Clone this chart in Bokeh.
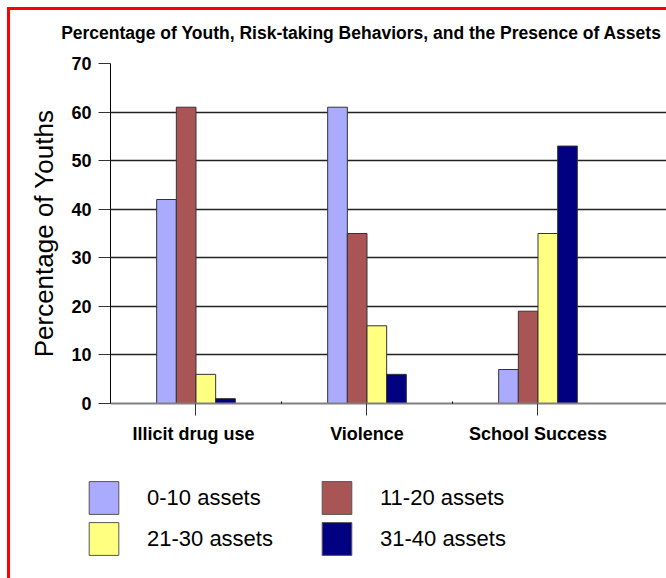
from bokeh.plotting import figure
from bokeh.layouts import column
from bokeh.models import (ColumnDataSource, Range1d, FixedTicker, Legend, LegendItem,
                          Label, InlineStyleSheet)
from bokeh.transform import dodge
from bokeh.embed import file_html
from bokeh.resources import INLINE

# ---- data ----
categories = ["Illicit drug  use", "Violence", "School Success"]
series_names = ["0-10 assets", "11-20 assets", "21-30 assets", "31-40 assets"]
assets_0_10 = [42, 61, 7]
assets_11_20 = [61, 35, 19]
assets_21_30 = [6, 16, 35]
assets_31_40 = [1, 6, 53]
y_ticks = [0, 10, 20, 30, 40, 50, 60, 70]
title_text = "Percentage of Youth, Risk-taking Behaviors, and the Presence of Assets"
y_label = "Percentage of Youths"

colors = ["#AAAAFF", "#AA5555", "#FFFF80", "#000080"]

positions = [i + 1 for i in range(len(categories))]
source = ColumnDataSource(dict(x=positions, s0=assets_0_10, s1=assets_11_20,
                               s2=assets_21_30, s3=assets_31_40))
cols = ["s0", "s1", "s2", "s3"]


def strip(height):
    f = figure(width=666, height=height, x_range=Range1d(100, 101), y_range=Range1d(100, 101),
               output_backend="svg", toolbar_location=None,
               x_axis_location=None, y_axis_location=None,
               min_border_left=0, min_border_right=0, min_border_top=0, min_border_bottom=0)
    f.frame_align = False
    f.grid.grid_line_color = None
    f.outline_line_color = None
    f.background_fill_color = "white"
    f.border_fill_color = "white"
    return f


# ---- title strip ----
pt = strip(48)
pt.add_layout(Label(x=361, y=16, x_units="screen", y_units="screen", text=title_text,
                    text_font="Liberation Sans", text_font_style="bold", text_font_size="17.5px",
                    text_align="center", text_baseline="alphabetic", text_color="black"))

# ---- main chart ----
p = figure(width=666, height=422, x_range=Range1d(0.5, 3.7515), y_range=Range1d(0, 70),
           output_backend="svg", toolbar_location=None,
           min_border_left=110, min_border_right=0, min_border_top=15, min_border_bottom=67)
p.frame_align = False
p.background_fill_color = "white"
p.border_fill_color = "white"
p.outline_line_color = None

bw = 0.115
offsets = [-1.5 * bw, -0.5 * bw, 0.5 * bw, 1.5 * bw]
for i, (col, c) in enumerate(zip(cols, colors)):
    p.vbar(x=dodge("x", offsets[i], range=p.x_range), top=col, width=bw, bottom=0,
           source=source, fill_color=c, line_color="#333333", line_width=1)

# grid
p.xgrid.grid_line_color = None
p.ygrid.grid_line_color = "#222222"
p.ygrid.grid_line_width = 1.5
p.ygrid.ticker = FixedTicker(ticks=y_ticks)

# y axis
p.yaxis.ticker = FixedTicker(ticks=y_ticks)
p.yaxis.axis_line_color = "black"
p.yaxis.major_tick_line_color = "#333333"
p.yaxis.major_tick_out = 12
p.yaxis.major_tick_in = 0
p.yaxis.minor_tick_line_color = None
p.yaxis.major_label_text_font = "Liberation Sans"
p.yaxis.major_label_text_font_style = "bold"
p.yaxis.major_label_text_font_size = "18px"
p.yaxis.major_label_text_color = "black"
p.yaxis.major_label_standoff = 7
p.yaxis.axis_label = y_label
p.yaxis.axis_label_text_font = "Liberation Sans"
p.yaxis.axis_label_text_font_style = "normal"
p.yaxis.axis_label_text_font_size = "26px"
p.yaxis.axis_label_text_color = "black"
p.yaxis.axis_label_standoff = 9

# x axis
p.xaxis.ticker = FixedTicker(ticks=positions, minor_ticks=[1.5, 2.5])
p.xaxis.major_label_overrides = {pos: cat for pos, cat in zip(positions, categories)}
p.xaxis.axis_line_color = "#808080"
p.xaxis.axis_line_width = 2
p.xaxis.major_tick_line_color = "#333333"
p.xaxis.major_tick_out = 12
p.xaxis.major_tick_in = 0
p.xaxis.minor_tick_line_color = "black"
p.xaxis.minor_tick_in = 2
p.xaxis.minor_tick_out = 0
p.xaxis.major_label_text_font = "Liberation Sans"
p.xaxis.major_label_text_font_style = "bold"
p.xaxis.major_label_text_font_size = "18px"
p.xaxis.major_label_text_color = "black"
p.xaxis.major_label_standoff = 8

# ---- legend strip (its renderers lie outside its view) ----
pl = strip(108)
leg_renderers = [pl.vbar(x="x", top=col, width=bw, source=source,
                         fill_color=c, line_color="#555555", line_width=1)
                 for col, c in zip(cols, colors)]

legend = Legend(items=[LegendItem(label=n, renderers=[r]) for n, r in zip(series_names, leg_renderers)],
                location=(85, 19), orientation="horizontal", ncols=2,
                glyph_width=37, glyph_height=41, label_standoff=25, label_width=171,
                spacing=0, padding=0, margin=0,
                label_text_font="Liberation Sans", label_text_font_size="22px",
                label_text_color="black",
                border_line_color=None, background_fill_alpha=0)
pl.add_layout(legend)

layout = column(pt, p, pl, spacing=0)

# red frame lines (top and left) of the original slide
layout.stylesheets = [InlineStyleSheet(css="""
:host { position: relative; }
:host::after {
  content: ""; position: absolute; left: 7px; top: 7px; right: 0; bottom: 0;
  border-left: 3px solid #FF0000; border-top: 3px solid #FF0000;
  pointer-events: none; z-index: 100;
}
""")]

open("out.html", "w").write(file_html(layout, INLINE))
